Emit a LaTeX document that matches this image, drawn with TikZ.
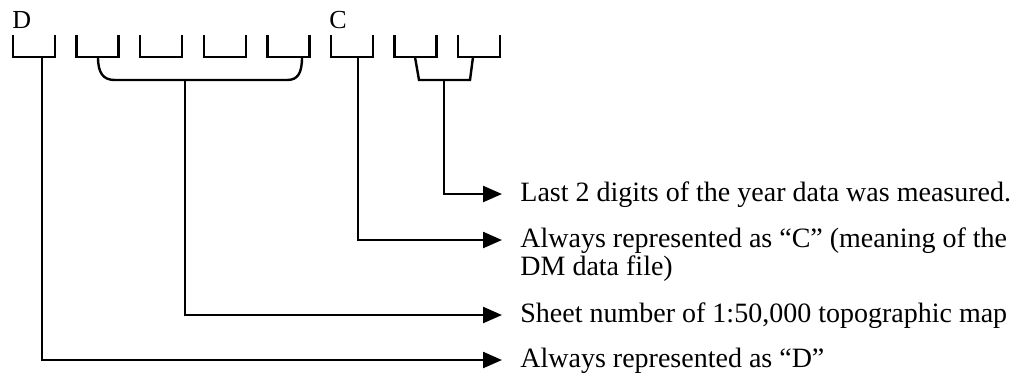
\documentclass[tikz,border=0pt]{standalone}
\usepackage{fontspec}
\setmainfont{Liberation Serif}
\usetikzlibrary{positioning,arrows.meta}

\tikzset{
  slotline/.style={line width=1.2pt},
  arr/.style={line width=1.2pt, -{Triangle[length=9.5pt,width=8pt]}},
  lbl/.style={anchor=west, inner xsep=9pt, inner ysep=0pt, font=\fontsize{14pt}{17pt}\selectfont, text height=10pt, text depth=3pt},
  letter/.style={anchor=base west, inner sep=0pt, font=\fontsize{13pt}{15pt}\selectfont}
}

\begin{document}
\begin{tikzpicture}[x=0.5pt, y=-0.5pt]
    \useasboundingbox (0,0) rectangle (1027,377);

    % Character slots
    \foreach \i in {0,...,7} {
        \draw[slotline] ({13+63.6*\i},35) |- ({55+63.6*\i},57) -- ({55+63.6*\i},35);
    }

    % Fixed letters
    \node[letter] (letD) at (12,28) {D};
    \node[letter] (letC) at (329,28) {C};

    % Brackets joining slots
    \draw[slotline] (98,57) .. controls (98,73) and (103,80) .. (115,80) -- (287,80) .. controls (298,80) and (302,73) .. (302,57);
    \draw[slotline] (415,57) -- (419,80) -- (470,80) -- (473,57);

    % Stem feet
    \coordinate (dfoot) at (42,57);
    \coordinate (sheetfoot) at (185,80);
    \coordinate (cfoot) at (358,57);
    \coordinate (yearfoot) at (444,80);

    % Descriptions
    \node[lbl] (lblYear) at (502,194) {Last 2 digits of the year data was measured.};
    \node[lbl] (lblC) at (502,240) {Always represented as “C” (meaning of the};
    \node[lbl, anchor=base west] (lblCcont) at ([yshift=-14pt]lblC.base west) {DM data file)};
    \node[lbl] (lblSheet) at (502,315) {Sheet number of 1:50,000 topographic map};
    \node[lbl] (lblD) at (502,360) {Always represented as “D”};

    % Connections
    \draw[arr] (yearfoot) |- (lblYear.west);
    \draw[arr] (cfoot) |- (lblC.west);
    \draw[arr] (sheetfoot) |- (lblSheet.west);
    \draw[arr] (dfoot) |- (lblD.west);
\end{tikzpicture}
\end{document}
